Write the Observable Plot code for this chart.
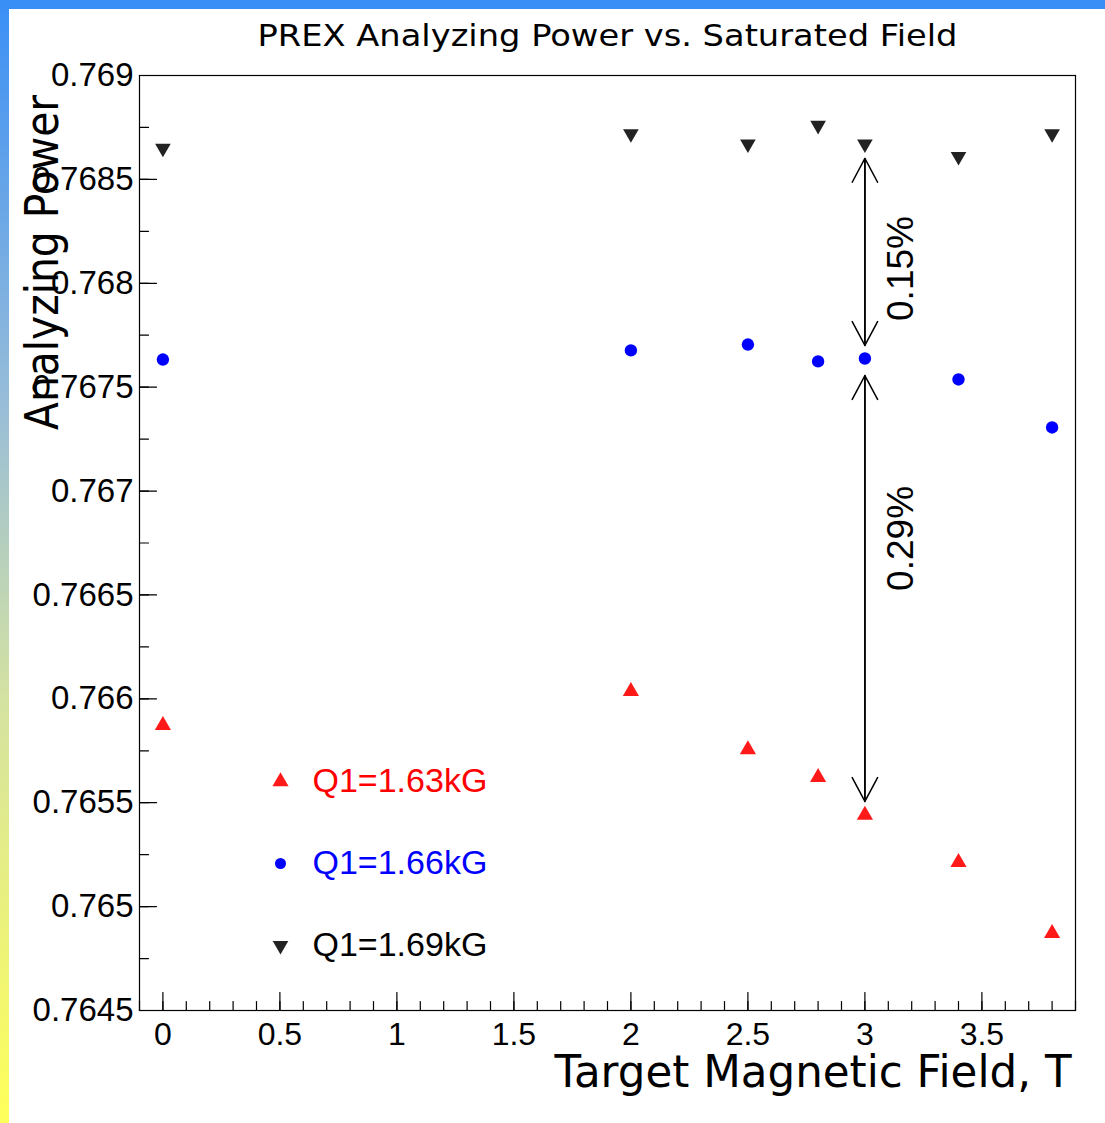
<!DOCTYPE html>
<html><head><meta charset="utf-8">
<script src="https://cdn.jsdelivr.net/npm/d3@7"></script>
<script src="https://cdn.jsdelivr.net/npm/@observablehq/plot@0.6"></script>
<style>
html,body{margin:0;padding:0;background:#fff;}
#wrap{position:relative;width:1105px;height:1123px;overflow:hidden;background:#fff;}
#left{position:absolute;left:0;top:0;width:9px;height:1123px;background:linear-gradient(to bottom,#3a8ff6 0%,#98bdd8 36%,#d4e2a2 62%,#ffff5a 100%);}
#top{position:absolute;left:0;top:0;width:1105px;height:9px;background:#3a8ff6;}
#chart{position:absolute;left:0;top:0;}
</style></head><body>
<div id="wrap"><div id="chart"></div><div id="left"></div><div id="top"></div></div>
<script>
// ---- data ----
const fields = [0, 2, 2.5, 2.8, 3, 3.4, 3.8];
const apQ163 = [0.765872, 0.766036, 0.765756, 0.765622, 0.765440, 0.765213, 0.764871];
const apQ166 = [0.767633, 0.767677, 0.767705, 0.767624, 0.767638, 0.767537, 0.767306];
const apQ169 = [0.76865, 0.76872, 0.76867, 0.76876, 0.76867, 0.76861, 0.76872];
const seriesNames = ["Q1=1.63kG", "Q1=1.66kG", "Q1=1.69kG"];
const seriesColors = ["#ff0000", "#0000ff", "#000000"];
const seriesMarkerFill = ["#ff1a1a", "#0000ff", "#222222"];
const xTickValues = [0, 0.5, 1, 1.5, 2, 2.5, 3, 3.5];
const xTickLabels = ["0", "0.5", "1", "1.5", "2", "2.5", "3", "3.5"];
const yTickValues = [0.7645, 0.765, 0.7655, 0.766, 0.7665, 0.767, 0.7675, 0.768, 0.7685, 0.769];
const yTickLabels = ["0.7645", "0.765", "0.7655", "0.766", "0.7665", "0.767", "0.7675", "0.768", "0.7685", "0.769"];
const arrowX = [3, 3];
const arrowTop = [0.768601, 0.767556];
const arrowBottom = [0.767701, 0.765506];
const arrowLabels = ["0.15%", "0.29%"];
const arrowLabelY = [0.768071, 0.766772];

const titleText = "PREX Analyzing Power vs. Saturated Field";
const xTitle = "Target Magnetic Field, T";
const yTitle = "Analyzing Power";

// ---- tables ----
const seriesValues = [apQ163, apQ166, apQ169];
const points = [];
seriesValues.forEach((vals, s) => vals.forEach((v, i) => points.push({x: fields[i], y: v, s})));
const arrows = arrowX.map((x, i) => ({x, top: arrowTop[i], bottom: arrowBottom[i], label: arrowLabels[i], ly: arrowLabelY[i]}));
const xMinor = d3.range(-1, 40).map(i => i / 10);
const yMinor = d3.range(0, 19).map(i => 0.7645 + i * 0.00025);

const xTickShape = {draw(ctx, l) { ctx.moveTo(0, 0); ctx.lineTo(0, -l); }};
const yTickShape = {draw(ctx, l) { ctx.moveTo(0, 0); ctx.lineTo(l, 0); }};

const FONT = "'Liberation Sans', Arial, Helvetica, sans-serif";
const TFONT = "'DejaVu Sans', 'Liberation Sans', sans-serif";

const marks = [
  Plot.frame({stroke: "black", strokeWidth: 1.2}),
  Plot.vector(xMinor, {x: d => d, frameAnchor: "bottom", length: 9, anchor: "start", rotate: 0, shape: xTickShape, stroke: "black", strokeWidth: 1.2}),
  Plot.vector(xTickValues, {x: d => d, frameAnchor: "bottom", length: 18, anchor: "start", rotate: 0, shape: xTickShape, stroke: "black", strokeWidth: 1.2}),
  Plot.vector(yMinor, {y: d => d, frameAnchor: "left", length: 9, anchor: "start", rotate: 0, shape: yTickShape, stroke: "black", strokeWidth: 1.2}),
  Plot.vector(yTickValues, {y: d => d, frameAnchor: "left", length: 17, anchor: "start", rotate: 0, shape: yTickShape, stroke: "black", strokeWidth: 1.2}),
  Plot.axisX(xTickValues, {tickSize: 0, tickPadding: 12, fontSize: 32, fill: "black", fontFamily: FONT, label: null,
    tickFormat: d => xTickLabels[xTickValues.indexOf(d)]}),
  Plot.axisY(yTickValues, {tickSize: 0, tickPadding: 6, fontSize: 33, fill: "black", fontFamily: FONT, label: null,
    tickFormat: d => yTickLabels[yTickValues.indexOf(d)]}),
  // arrows (double headed)
  Plot.arrow(arrows, {x: "x", y1: "top", y2: "bottom", stroke: "black", strokeWidth: 1.5, headLength: 27, headAngle: 56}),
  Plot.arrow(arrows, {x: "x", y1: "bottom", y2: "top", stroke: "black", strokeWidth: 1.5, headLength: 27, headAngle: 56}),
  Plot.text(arrows, {x: "x", y: "ly", text: "label", rotate: -90, dx: 36, fontSize: 37, fontFamily: FONT, fill: "black"}),
  // data points
  Plot.dot(points.filter(d => d.s === 0), {x: "x", y: "y", symbol: "triangle", r: 6, fill: seriesMarkerFill[0], stroke: null}),
  Plot.dot(points.filter(d => d.s === 1), {x: "x", y: "y", symbol: "circle", r: 6.2, fill: seriesMarkerFill[1], stroke: null}),
  Plot.dot(points.filter(d => d.s === 2), {x: "x", y: "y", symbol: "triangle", rotate: 180, r: 5.8, fill: seriesMarkerFill[2], stroke: null}),
  // titles
  Plot.text([titleText], {frameAnchor: "top", textAnchor: "middle", lineAnchor: "middle", dy: -39, fontSize: 30, fontFamily: TFONT, fill: "black", text: d => d}),
  Plot.text([xTitle], {frameAnchor: "bottom-right", textAnchor: "end", lineAnchor: "middle", dx: -4, dy: 62, fontSize: 44, fontFamily: TFONT, fill: "black", text: d => d}),
  Plot.text([yTitle], {frameAnchor: "top-left", textAnchor: "middle", lineAnchor: "middle", rotate: -90, dx: -96, dy: 187, fontSize: 46, fontFamily: TFONT, fill: "black", text: d => d})
];

// legend
const legendSymbols = ["triangle", "circle", "triangle"];
const legendRotate = [0, 0, 180];
const legendR = [6, 5.5, 5.8];
seriesNames.forEach((name, i) => {
  const dy = -229 + i * 82;
  marks.push(Plot.dot([name], {frameAnchor: "bottom-left", dx: 141, dy, symbol: legendSymbols[i], rotate: legendRotate[i], r: legendR[i], fill: seriesMarkerFill[i], stroke: null}));
  marks.push(Plot.text([name], {frameAnchor: "bottom-left", dx: 173, dy, textAnchor: "start", lineAnchor: "middle", text: d => d, fontSize: 34, fontFamily: FONT, fill: seriesColors[i]}));
});

const plot = Plot.plot({
  width: 1105,
  height: 1123,
  marginTop: 75,
  marginBottom: 113,
  marginLeft: 139,
  marginRight: 30,
  x: {domain: [-0.1, 3.9], axis: null},
  y: {domain: [0.7645, 0.769], axis: null},
  style: {background: "transparent", fontFamily: FONT, color: "black", overflow: "visible"},
  marks
});

// fit title lengths to the reference widths
plot.querySelectorAll("text").forEach(t => {
  const s = t.textContent;
  if (s === titleText) { t.setAttribute("textLength", 700); t.setAttribute("lengthAdjust", "spacingAndGlyphs"); }
  if (s === xTitle) { t.setAttribute("textLength", 517); t.setAttribute("lengthAdjust", "spacingAndGlyphs"); }
  if (s === yTitle) { t.setAttribute("textLength", 335); t.setAttribute("lengthAdjust", "spacingAndGlyphs"); }
});

document.getElementById("chart").appendChild(plot);
</script>
</body></html>
